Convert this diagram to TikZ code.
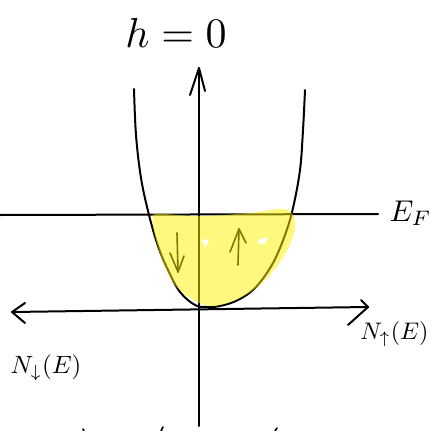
\documentclass[tikz,border=0pt]{standalone}
\usepackage{amssymb}
\begin{document}
\begin{tikzpicture}[x=1pt,y=-1pt,line cap=round,line join=round,
  ink/.style={line width=2pt,black},
  thinink/.style={line width=1.6pt,black},
  hilite/.style={fill=yellow,fill opacity=0.5,draw=none},
  lbl/.style={inner sep=0pt,text=black}]
\useasboundingbox (0,0) rectangle (431,431);
% axes
\coordinate (vbot) at (199,426);
\coordinate (vtop) at (199,68);
\coordinate (hl) at (12,312);
\coordinate (hr) at (368,307);
\coordinate (fl) at (0,215);
\coordinate (fr) at (378,214);
\draw[ink] (vbot) -- (vtop);
\draw[ink] (vtop) ++(-9,27) -- (vtop) -- ++(6,23);
\draw[ink] (hl) -- (hr);
\draw[ink] (hl) ++(13,-9) -- (hl) -- ++(13,11);
\draw[ink] (hr) ++(-7,-7) -- (hr) -- ++(-20,18);
\draw[ink] (fl) -- (fr);
% band
\draw[ink] plot[smooth,tension=0.6] coordinates {(134,89) (136,135) (141,178) (149,215) (158,246) (168,270) (180,292) (195,305) (207,307) (220,306) (238,300) (256,287) (273,263) (285,235) (293,208) (300,170) (303,130) (305,90)};
% spin arrows
\coordinate (dt) at (177,233);
\coordinate (db) at (178,272);
\draw[thinink] (dt) -- (db);
\draw[thinink] (db) ++(-8,-19) -- (db) -- ++(6,-16);
\coordinate (ub) at (238,265);
\coordinate (ut) at (239,229);
\draw[thinink] (ub) -- (ut);
\draw[thinink] (ut) ++(-9,23) -- (ut) -- ++(7,14);
% highlighter
\fill[hilite] plot[smooth cycle,tension=0.6] coordinates {(157,214) (200,216) (250,213) (284,209) (295,220) (292,240) (280,262) (262,283) (240,298) (214,306) (195,301) (175,285) (163,262) (155,236) (153,220)};
\fill[white] (202,240) -- (209,239) -- (205,248) -- cycle;
\fill[white] (258,240) -- (267,237) -- (266,243) -- (259,244) -- cycle;
% labels
\node[lbl,scale=4.2] (hz) at (176,33) {$h=0$};
\node[lbl,scale=3,anchor=west] (ef) at (389,213) {$E_F$};
\node[lbl,scale=2.5] (nd) at (46,368) {$N_\downarrow(E)$};
\node[lbl,scale=2.4,anchor=east] (nu) at (429,334) {$N_\uparrow(E)$};
% cut-off fragments at bottom edge
\draw[thinink] (83,429) -- (84,431);
\draw[thinink] (163,427) -- (161,431);
\draw[thinink] (277,428) -- (275,431);
\end{tikzpicture}
\end{document}
